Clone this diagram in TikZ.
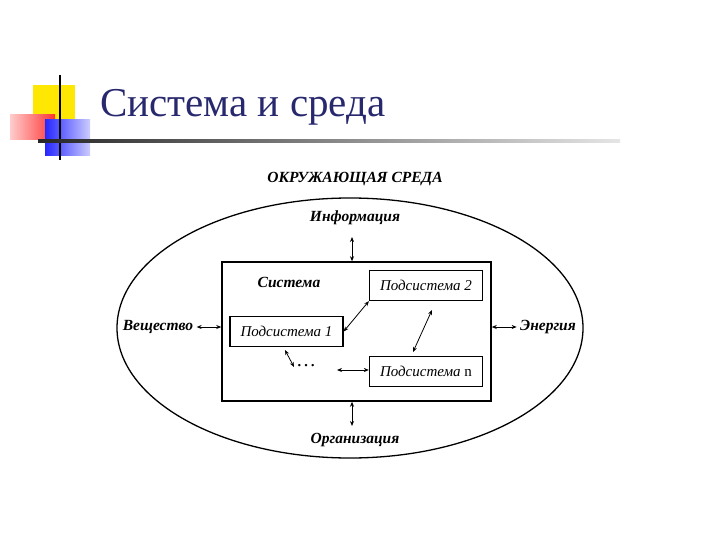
\documentclass[tikz,border=0pt]{standalone}
\usepackage{fontspec}
\setmainfont{Liberation Serif}
\usetikzlibrary{arrows.meta}
\definecolor{navy}{RGB}{40,40,110}
\tikzset{lab/.style={font=\bfseries\itshape\fontsize{15.5}{17}\selectfont},
 sub/.style={draw,line width=1.3pt,minimum width=113pt,minimum height=30pt,inner sep=1pt,font=\itshape\fontsize{15}{16}\selectfont},
 biarr/.style={{Stealth[length=5pt,width=4pt]}-{Stealth[length=5pt,width=4pt]},line width=0.8pt}}
\begin{document}
\begin{tikzpicture}[x=1pt,y=-1pt]
\useasboundingbox (0,0) rectangle (720,540);
% decoration
\fill[yellow!90!orange] (33,85) rectangle (75,125);
\shade[left color=red!20,right color=red!80] (10,115) rectangle (55,140);
\shade[left color=blue!85,right color=blue!20] (45,120) rectangle (90,156);
\draw[line width=2pt] (60,75) -- (60,160);
\shade[left color=black!85,right color=black!10] (38,140) rectangle (620,142.5);
\node[anchor=base west,text=navy,font=\fontsize{41}{42}\selectfont,inner sep=0] (title) at (100,117) {Система и среда};
% diagram
\draw[line width=1.3pt] (350,328) ellipse [x radius=233,y radius=130];
\node[draw,line width=1.5pt,minimum width=269pt,minimum height=139pt] (sys) at (356.5,331.5) {};
\node[sub] (s2) at (426,285.5) {Подсистема 2};
\node[sub] (s1) at (286.5,331.5) {Подсистема 1};
\node[sub] (sn) at (426,371.5) {Подсистема \upshape n};
\node[font=\fontsize{20}{20}\selectfont] (dots) at (306,366) {\dots};
\node[lab] (env) at (355,179) {ОКРУЖАЮЩАЯ СРЕДА};
\node[lab] (inf) at (355,218) {Информация};
\node[lab] (org) at (355,440) {Организация};
\node[lab] (vesh) at (158,327) {Вещество};
\node[lab] (en) at (548,327) {Энергия};
\node[lab] (sysl) at (289,282) {Система};
\draw[biarr] (352,237) -- (sys.north -| 352,0);
\draw[biarr] (sys.south -| 352,0) -- (352,426);
\draw[biarr] (vesh.east) -- (sys.west |- vesh.east);
\draw[biarr] (sys.east |- en.west) -- (en.west);
\draw[biarr] (s1.east) -- (s2.south west);
\draw[biarr] (432,310) -- (413,352);
\draw[biarr] (285,350) -- (294,367);
\draw[biarr] (337,370) -- (sn.west |- 0,370);
\end{tikzpicture}
\end{document}
